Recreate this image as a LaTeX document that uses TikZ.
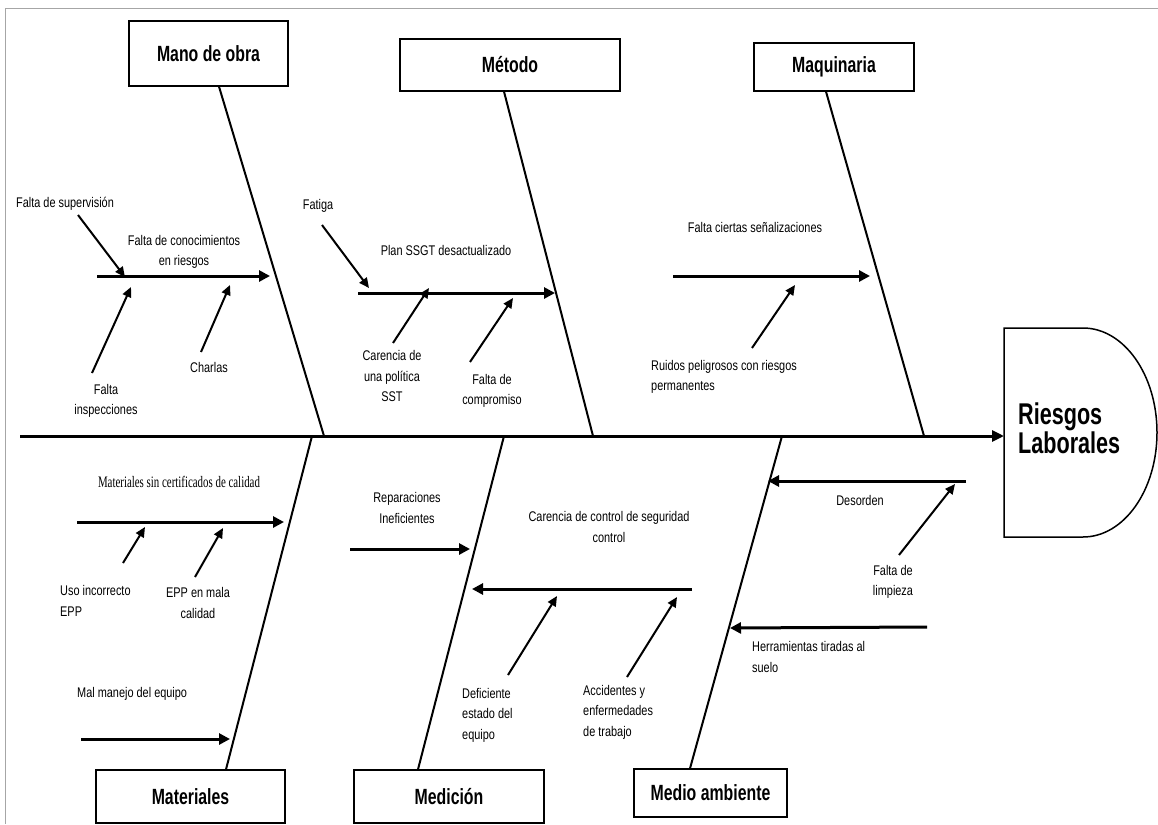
\documentclass[tikz,border=0pt]{standalone}
\usepackage{fontspec}
\usetikzlibrary{arrows.meta}
\newfontfamily\lblfont{Liberation Sans}[FakeStretch=0.78]
\newfontfamily\hdfont{Liberation Sans}[FakeStretch=0.72]
\newfontfamily\serfont{Liberation Serif}[FakeStretch=0.68]

\begin{document}
\begin{tikzpicture}[x=1pt, y=-1pt]
\tikzset{categoria/.style={draw, line width=1.2pt, inner sep=0pt, font=\hdfont\bfseries\fontsize{22}{24}\selectfont}}
\tikzset{causa/.style={inner sep=1pt, align=center, font=\lblfont\fontsize{14}{20.5}\selectfont}}
\tikzset{hueso/.style={line width=2pt}}
\tikzset{rama/.style={line width=3pt, -{Triangle[length=11pt, width=11pt]}}}
\tikzset{flecha/.style={line width=2pt, -{Triangle[length=10pt, width=9pt]}}}
\useasboundingbox (0,0) rectangle (1158,824);
\draw[gray!70, line width=1pt] (1158,9) -- (5,9) -- (5,824);

% cabeza y espina
\draw[line width=1.5pt] (1004,328) -- (1083,328) arc[start angle=90, end angle=-90, x radius=74pt, y radius=104.5pt] -- (1004,537) -- cycle;
\node[anchor=west, align=left, inner sep=2pt, font=\hdfont\bfseries\fontsize{30}{29}\selectfont] (efecto) at (1016,428.5) {Riesgos\\Laborales};
\coordinate (cola) at (20,436);
\coordinate (cabeza) at (1004,436);
\draw[line width=3pt, -{Triangle[length=12pt, width=11pt]}] (cola) -- (cabeza);

% categorias
\node[categoria, minimum width=159pt, minimum height=65pt] (mano) at (208.5,53.5) {Mano de obra};
\node[categoria, minimum width=220pt, minimum height=52pt] (metodo) at (510,65) {Método};
\node[categoria, minimum width=160pt, minimum height=48pt] (maquinaria) at (834,67) {Maquinaria};
\node[categoria, minimum width=189pt, minimum height=53pt] (materiales) at (190.5,796.5) {Materiales};
\node[categoria, minimum width=190pt, minimum height=53pt] (medicion) at (449,796.5) {Medición};
\node[categoria, minimum width=153pt, minimum height=48pt] (medio) at (710.5,793) {Medio ambiente};
\coordinate (E1) at (324,436);
\coordinate (E2) at (593,436);
\coordinate (E3) at (924,436);
\coordinate (E4) at (312,436);
\coordinate (E5) at (504,436);
\coordinate (E6) at (782,436);
\draw[hueso] ([xshift=10.5pt]mano.south) -- (E1);
\draw[hueso] ([xshift=-6pt]metodo.south) -- (E2);
\draw[hueso] ([xshift=-8pt]maquinaria.south) -- (E3);
\draw[hueso] ([xshift=35.5pt]materiales.north) -- (E4);
\draw[hueso] ([xshift=-31pt]medicion.north) -- (E5);
\draw[hueso] ([xshift=-20.5pt]medio.north) -- (E6);

% mano de obra
\node[causa] (supervision) at (65,204) {Falta de supervisión};
\node[causa] (conocimientos) at (184,252) {Falta de conocimientos\\en riesgos};
\node[causa] (charlas) at (209,367) {Charlas};
\node[causa] (inspecciones) at (106,401) {Falta\\inspecciones};
\coordinate (R1) at (97,276);
\coordinate (R1e) at (270,276);
\coordinate (F1) at (78,215);
\coordinate (F1e) at (125,277);
\coordinate (F2) at (92,373);
\coordinate (F2e) at (131,287);
\coordinate (F3) at (201,352);
\coordinate (F3e) at (230,285);
\draw[rama] (R1) -- (R1e);
\draw[flecha] (F1) -- (F1e);
\draw[flecha] (F2) -- (F2e);
\draw[flecha] (F3) -- (F3e);

% metodo
\node[causa] (fatiga) at (318,206) {Fatiga};
\node[causa] (plan) at (446,250) {Plan SSGT desactualizado};
\node[causa] (politica) at (392,376) {Carencia de\\una política\\SST};
\node[causa] (compromiso) at (492,391) {Falta de\\compromiso};
\coordinate (R2) at (358,293);
\coordinate (R2e) at (555,293);
\coordinate (F4) at (322,225);
\coordinate (F4e) at (369,288);
\coordinate (F5) at (393,343);
\coordinate (F5e) at (429,288);
\coordinate (F6) at (470,362);
\coordinate (F6e) at (513,298);
\draw[rama] (R2) -- (R2e);
\draw[flecha] (F4) -- (F4e);
\draw[flecha] (F5) -- (F5e);
\draw[flecha] (F6) -- (F6e);

% maquinaria
\node[causa] (senal) at (755,227) {Falta ciertas señalizaciones};
\node[causa, anchor=west, align=left] (ruidos) at (650,377) {Ruidos peligrosos con riesgos\\permanentes};
\coordinate (R3) at (673,276);
\coordinate (R3e) at (870,276);
\coordinate (F7) at (752,348);
\coordinate (F7e) at (795,285);
\draw[rama] (R3) -- (R3e);
\draw[flecha] (F7) -- (F7e);

% materiales
\node[causa, font=\serfont\fontsize{16}{20}\selectfont] (certificados) at (179,482) {Materiales sin certificados de calidad};
\node[causa, anchor=west, align=left] (uso) at (59,601) {Uso incorrecto\\EPP};
\node[causa] (eppmala) at (198,603) {EPP en mala\\calidad};
\node[causa, anchor=west] (manejo) at (76,694) {Mal manejo del equipo};
\coordinate (R4) at (77,522);
\coordinate (R4e) at (284,522);
\coordinate (R5) at (81,739);
\coordinate (R5e) at (230,739);
\coordinate (F8) at (123,563);
\coordinate (F8e) at (145,527);
\coordinate (F9) at (195,577);
\coordinate (F9e) at (223,528);
\draw[rama] (R4) -- (R4e);
\draw[rama] (R5) -- (R5e);
\draw[flecha] (F8) -- (F8e);
\draw[flecha] (F9) -- (F9e);

% medicion
\node[causa] (reparaciones) at (407,508) {Reparaciones\\Ineficientes};
\node[causa] (control) at (609,527) {Carencia de control de seguridad\\control};
\node[causa, anchor=west, align=left] (deficiente) at (461,715) {Deficiente\\estado del\\equipo};
\node[causa, anchor=west, align=left] (accidentes) at (582,712) {Accidentes y\\enfermedades\\de trabajo};
\coordinate (R6) at (350,549);
\coordinate (R6e) at (470,549);
\coordinate (R7) at (692,589);
\coordinate (R7e) at (472,589);
\coordinate (F10) at (508,675);
\coordinate (F10e) at (557,596);
\coordinate (F11) at (627,677);
\coordinate (F11e) at (677,597);
\draw[rama] (R6) -- (R6e);
\draw[rama] (R7) -- (R7e);
\draw[flecha] (F10) -- (F10e);
\draw[flecha] (F11) -- (F11e);

% medio ambiente
\node[causa] (desorden) at (860,500) {Desorden};
\node[causa] (limpieza) at (893,582) {Falta de\\limpieza};
\node[causa, anchor=west, align=left] (herramientas) at (751,657) {Herramientas tiradas al\\suelo};
\coordinate (R8) at (966,481);
\coordinate (R8e) at (768,481);
\coordinate (R9) at (927,627);
\coordinate (R9e) at (730,628);
\coordinate (F12) at (899,555);
\coordinate (F12e) at (955,484);
\draw[rama] (R8) -- (R8e);
\draw[rama] (R9) -- (R9e);
\draw[flecha] (F12) -- (F12e);
\end{tikzpicture}
\end{document}
